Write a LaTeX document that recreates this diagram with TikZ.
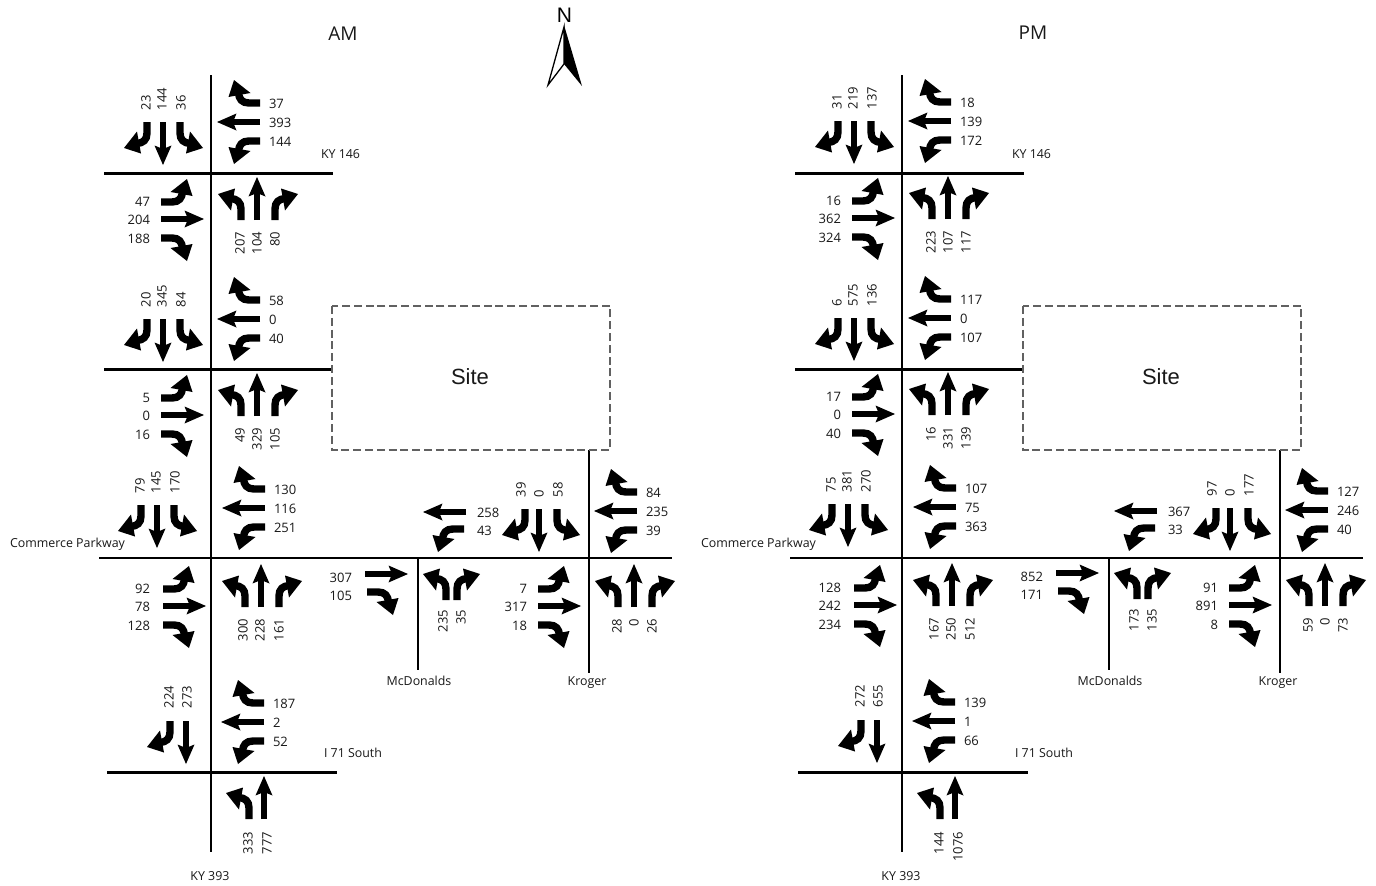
\documentclass[tikz,border=0pt]{standalone}
\usepackage{fontspec}
\setmainfont{Open Sans}
\newfontfamily\arialf{Liberation Sans}
\newcount\lblc
\tikzset{
  road/.style={line width=2.4pt,black},
  lab/.style={inner sep=0pt,outer sep=0pt,font=\fontsize{13}{16}\selectfont,text=black!90},
  street/.style={inner sep=0pt,outer sep=0pt,font=\fontsize{12.4}{16}\selectfont,text=black!90},
  title/.style={inner sep=0pt,outer sep=0pt,font=\fontsize{19}{24}\selectfont,text=black!90},
  sitebox/.style={draw=black!62,line width=2.2pt,dash pattern=on 8pt off 3.8pt},
}
% arrow glyphs: origin = middle of the tail end, forward = screen up at rot 0
\newcommand\LTg[3]{\begin{scope}[shift={(#1,#2)},rotate=#3]
  \draw[line width=7.4pt,black] (0,0) -- (0,-11) .. controls (0,-18) and (-4,-21) .. (-10,-21.5);
  \fill[black] (-23,-26) -- (-6,-31.5) -- (-8,-21) -- (-10,-9.5) -- cycle;
\end{scope}}
\newcommand\RTg[3]{\begin{scope}[shift={(#1,#2)},rotate=#3]
  \draw[line width=7.4pt,black] (0,0) -- (0,-11) .. controls (0,-18) and (4,-21) .. (10,-21.5);
  \fill[black] (23,-26) -- (6,-31.5) -- (8,-21) -- (10,-9.5) -- cycle;
\end{scope}}
\newcommand\THg[3]{\begin{scope}[shift={(#1,#2)},rotate=#3]
  \draw[line width=5.4pt,black] (0,0) -- (0,-30);
  \fill[black] (0,-43) -- (8.5,-23.5) -- (0,-27) -- (-8.5,-23.5) -- cycle;
\end{scope}}
% labels
\newcommand\LE[3]{\global\advance\lblc by 1 \node[lab,anchor=west,yshift=-1pt] (t\the\lblc) at (#1,#2) {#3};}
\newcommand\LW[3]{\global\advance\lblc by 1 \node[lab,anchor=east,yshift=-1pt] (t\the\lblc) at (#1,#2) {#3};}
\newcommand\LB[3]{\global\advance\lblc by 1 \node[lab,rotate=90,anchor=west] (t\the\lblc) at (#1,#2) {#3};}
\newcommand\LT[3]{\global\advance\lblc by 1 \node[lab,rotate=90,anchor=east] (t\the\lblc) at (#1,#2) {#3};}
% groups of three
\newcommand\SBg[5]{\RTg{\numexpr#1-16}{#2}{180}\THg{#1}{#2}{180}\LTg{\numexpr#1+17}{#2}{180}%
  \LB{\numexpr#1-17}{\numexpr#2-12}{#3}\LB{\numexpr#1-1}{\numexpr#2-12}{#4}\LB{\numexpr#1+18}{\numexpr#2-12}{#5}}
\newcommand\WBg[5]{\RTg{#1}{\numexpr#2-19}{90}\THg{#1}{#2}{90}\LTg{#1}{\numexpr#2+19}{90}%
  \LE{\numexpr#1+9}{\numexpr#2-19}{#3}\LE{\numexpr#1+9}{#2}{#4}\LE{\numexpr#1+9}{\numexpr#2+19}{#5}}
\newcommand\EBg[6][11]{\LTg{#2}{\numexpr#3-17}{-90}\THg{#2}{#3}{-90}\RTg{#2}{\numexpr#3+19}{-90}%
  \LW{\numexpr#2-#1}{\numexpr#3-18}{#4}\LW{\numexpr#2-#1}{#3}{#5}\LW{\numexpr#2-#1}{\numexpr#3+19}{#6}}
\newcommand\NBg[6][0]{\LTg{\numexpr#2-16}{#3}{0}\THg{#2}{#3}{0}\RTg{\numexpr#2+18}{#3}{0}%
  \LT{\numexpr#2-17-#1}{\numexpr#3+12}{#4}\LT{\numexpr#2-#1}{\numexpr#3+12}{#5}\LT{\numexpr#2+18}{\numexpr#3+12}{#6}}
% roads and street names of one panel
\newcommand\Base{%
  \draw[road] (211,75) -- (211,852);
  \draw[road] (104,173.5) -- (333,173.5);
  \draw[road] (104,369.5) -- (333,369.5);
  \draw[road] (99,558) -- (672,558);
  \draw[road] (107,772.5) -- (337,772.5);
  \draw[road] (418,558) -- (418,670);
  \draw[road] (589,450) -- (589,673);
  \draw[sitebox] (332,306) rectangle (610,450);
  \node[inner sep=0pt,font=\arialf\fontsize{22}{26}\selectfont,text=black!90] (site\the\lblc) at (470,377) {Site};
  \global\advance\lblc by 1
  \node[street,anchor=west] (s1\the\lblc) at (321,154) {KY 146};
  \node[street,anchor=west] (s2\the\lblc) at (10,544) {Commerce Parkway};
  \node[street] (s3\the\lblc) at (419,681) {McDonalds};
  \node[street] (s4\the\lblc) at (587,682.5) {Kroger};
  \node[street,anchor=west] (s5\the\lblc) at (324,753) {I 71 South};
  \node[street] (s6\the\lblc) at (210,876) {KY 393};
}
\begin{document}
\begin{tikzpicture}[x=1pt,y=-1pt]
\useasboundingbox (0,0) rectangle (1376,886);
\fill[white] (0,0) rectangle (1376,886);
% titles and north arrow
\node[title] (am) at (343,34) {AM};
\node[title] (pm) at (1033,33) {PM};
\node[inner sep=0pt,font=\arialf\fontsize{21}{24}\selectfont] (north) at (564.5,15) {N};
\draw[black,line width=1.3pt,fill=white,line join=miter] (564,27) -- (548,85) -- (564,64) -- cycle;
\fill[black] (564,25) -- (582,86) -- (564,64) -- cycle;
% AM panel
\Base
\SBg{163}{122}{23}{144}{36}
\WBg{260}{122}{37}{393}{144}
\EBg{161}{219}{47}{204}{188}
\NBg{257}{220}{207}{104}{80}
\SBg{163}{319}{20}{345}{84}
\WBg{260}{319}{58}{0}{40}
\EBg{161}{415}{5}{0}{16}
\NBg{257}{416}{49}{329}{105}
\SBg{157}{505}{79}{145}{170}
\WBg{265}{508}{130}{116}{251}
\EBg[13]{163}{606}{92}{78}{128}
\NBg[1]{261}{607}{300}{228}{161}
% McDonalds
\THg{466}{512}{90}\LTg{464}{529}{90}
\LE{477}{512}{258}\LE{477}{530}{43}
\THg{365}{574}{-90}\RTg{367}{592}{-90}
\LW{352}{577}{307}\LW{352}{595}{105}
\LTg{446}{600}{0}\RTg{457}{600}{0}
\LT{443}{610}{235}\LT{461}{610}{35}
% Kroger
\RTg{525}{509}{180}\THg{539}{509}{180}\LTg{557}{509}{180}
\LB{521}{497}{39}\LB{539}{497}{0}\LB{558}{497}{58}
\WBg{637}{511}{84}{235}{39}
\EBg{538}{606}{7}{317}{18}
\NBg{634}{607}{28}{0}{26}
% I 71
\RTg{170}{721}{180}\THg{186}{721}{180}
\LB{169}{708}{224}\LB{187}{708}{273}
\WBg{264}{722}{187}{2}{52}
\LTg{249}{819}{0}\THg{264}{819}{0}
\LT{248}{832}{333}\LT{267}{832}{777}
% PM panel
\begin{scope}[xshift=691pt]
\Base
\SBg{163}{121}{31}{219}{137}
\WBg{260}{121}{18}{139}{172}
\EBg{161}{218}{16}{362}{324}
\NBg{257}{219}{223}{107}{117}
\SBg{163}{318}{6}{575}{136}
\WBg{260}{318}{117}{0}{107}
\EBg{161}{414}{17}{0}{40}
\NBg{257}{415}{16}{331}{139}
\SBg{157}{504}{75}{381}{270}
\WBg{265}{507}{107}{75}{363}
\EBg[13]{163}{605}{128}{242}{234}
\NBg[1]{261}{606}{167}{250}{512}
\THg{466}{511}{90}\LTg{464}{528}{90}
\LE{477}{511}{367}\LE{477}{529}{33}
\THg{365}{573}{-90}\RTg{367}{591}{-90}
\LW{352}{576}{852}\LW{352}{594}{171}
\LTg{446}{599}{0}\RTg{457}{599}{0}
\LT{443}{609}{173}\LT{461}{609}{135}
\RTg{525}{508}{180}\THg{539}{508}{180}\LTg{557}{508}{180}
\LB{521}{496}{97}\LB{539}{496}{0}\LB{558}{496}{177}
\WBg{637}{510}{127}{246}{40}
\EBg{538}{605}{91}{891}{8}
\NBg{634}{606}{59}{0}{73}
\RTg{170}{720}{180}\THg{186}{720}{180}
\LB{169}{707}{272}\LB{187}{707}{655}
\WBg{264}{721}{139}{1}{66}
\LTg{249}{819}{0}\THg{264}{819}{0}
\LT{248}{832}{144}\LT{267}{832}{1076}
\end{scope}
\end{tikzpicture}
\end{document}
